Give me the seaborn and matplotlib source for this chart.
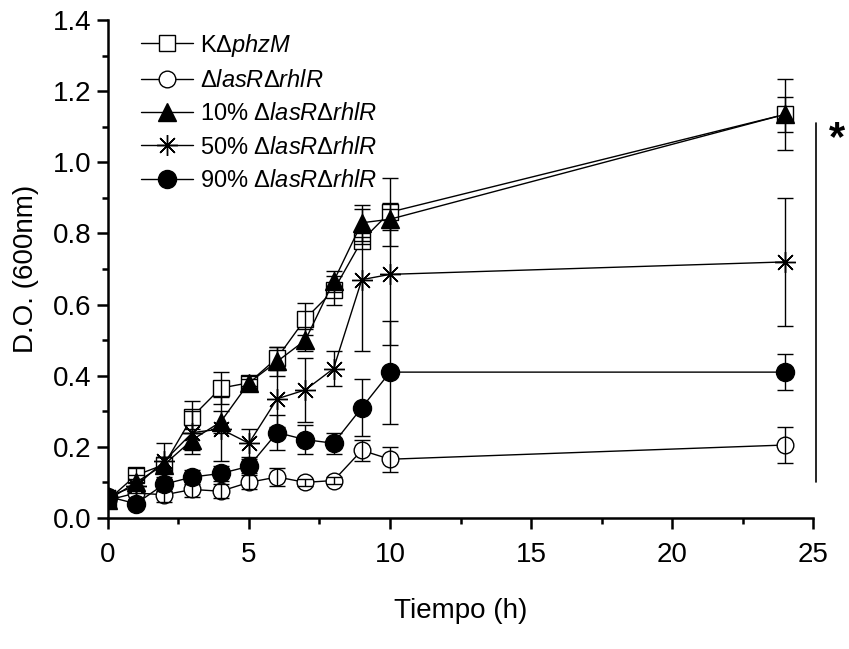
import numpy as np
import pandas as pd
import matplotlib
matplotlib.use("Agg")
import matplotlib.pyplot as plt
import seaborn as sns
from matplotlib.ticker import MultipleLocator

# Time points (h)
tiempo = [0, 1, 2, 3, 4, 5, 6, 7, 8, 9, 10, 24]

# Mean OD600 per culture
kphzm = [0.05, 0.12, 0.15, 0.285, 0.365, 0.38, 0.45, 0.56, 0.64, 0.78, 0.86, 1.135]
laslhl = [0.05, 0.07, 0.065, 0.08, 0.075, 0.10, 0.115, 0.10, 0.105, 0.19, 0.165, 0.205]
mix10 = [0.05, 0.10, 0.15, 0.22, 0.27, 0.38, 0.44, 0.50, 0.665, 0.83, 0.84, 1.135]
mix50 = [0.06, 0.09, 0.16, 0.24, 0.25, 0.21, 0.335, 0.36, 0.42, 0.67, 0.685, 0.72]
mix90 = [0.06, 0.04, 0.095, 0.115, 0.125, 0.145, 0.24, 0.22, 0.21, 0.31, 0.41, 0.41]

# Standard deviations
kphzm_sd = [0.01, 0.02, 0.02, 0.045, 0.045, 0.01, 0.03, 0.045, 0.04, 0.01, 0.095, 0.10]
laslhl_sd = [0.01, 0.02, 0.02, 0.02, 0.02, 0.02, 0.025, 0.01, 0.01, 0.03, 0.035, 0.05]
mix10_sd = [0.01, 0.02, 0.02, 0.03, 0.03, 0.02, 0.04, 0.03, 0.03, 0.05, 0.03, 0.05]
mix50_sd = [0.01, 0.02, 0.05, 0.06, 0.09, 0.04, 0.08, 0.09, 0.05, 0.2, 0.2, 0.18]
mix90_sd = [0.01, 0.01, 0.02, 0.02, 0.02, 0.02, 0.05, 0.04, 0.03, 0.08, 0.145, 0.05]

labels = [r"K$\Delta\mathit{phzM}$",
          r"$\Delta\mathit{lasR}\Delta\mathit{rhlR}$",
          r"10% $\Delta\mathit{lasR}\Delta\mathit{rhlR}$",
          r"50% $\Delta\mathit{lasR}\Delta\mathit{rhlR}$",
          r"90% $\Delta\mathit{lasR}\Delta\mathit{rhlR}$"]

sns.set_theme(style="ticks")
plt.rcParams["font.family"] = ["Liberation Sans", "DejaVu Sans"]
plt.rcParams["mathtext.fontset"] = "custom"
plt.rcParams["mathtext.rm"] = "Liberation Sans"
plt.rcParams["mathtext.it"] = "Liberation Sans:italic"
plt.rcParams["text.color"] = "black"
plt.rcParams["axes.labelcolor"] = "black"
plt.rcParams["xtick.color"] = "black"
plt.rcParams["ytick.color"] = "black"
plt.rcParams["axes.edgecolor"] = "black"

fig = plt.figure(figsize=(8.49, 6.49), dpi=100)
ax = fig.add_axes([0.127, 0.202, 0.831, 0.767])

series = [
    (kphzm, kphzm_sd, "s", "white", 12),
    (laslhl, laslhl_sd, "o", "white", 12),
    (mix10, mix10_sd, "^", "black", 13),
    (mix50, mix50_sd, (8, 2, 0), "none", 15),
    (mix90, mix90_sd, "o", "black", 13),
]

for (vals, sd, mk, fc, ms), lab in zip(series, labels):
    df = pd.DataFrame({"t": tiempo, "od": vals})
    sns.lineplot(data=df, x="t", y="od", ax=ax, color="black", lw=1,
                 marker=mk, markersize=ms, markerfacecolor=fc,
                 markeredgecolor="black", markeredgewidth=1, label=lab,
                 zorder=2)
    ax.errorbar(tiempo, vals, yerr=sd, fmt="none", ecolor="black",
                elinewidth=1, capsize=6, capthick=1, zorder=3)

ax.set_xlim(0, 25)
ax.set_ylim(0, 1.4)
ax.xaxis.set_major_locator(MultipleLocator(5))
ax.xaxis.set_minor_locator(MultipleLocator(2.5))
ax.yaxis.set_major_locator(MultipleLocator(0.2))
ax.yaxis.set_minor_locator(MultipleLocator(0.1))
ax.yaxis.set_major_formatter(matplotlib.ticker.FormatStrFormatter("%.1f"))
ax.tick_params(which="major", length=8, width=1.8, labelsize=20, direction="out")
ax.tick_params(axis="x", which="major", pad=9)
ax.tick_params(which="minor", length=4, width=1.8, direction="out")
for s in ["top", "right"]:
    ax.spines[s].set_visible(False)
for s in ["left", "bottom"]:
    ax.spines[s].set_linewidth(1.8)

ax.set_xlabel("Tiempo (h)", fontsize=20, labelpad=22)
ax.set_ylabel("D.O. (600nm)", fontsize=20, labelpad=10)

ax.legend(loc="upper left", bbox_to_anchor=(0.02, 1.015), frameon=False,
          fontsize=17, handlelength=2.2, labelspacing=0.48, handletextpad=0.3,
          borderaxespad=0.4)

# significance bar
ax.plot([25.1, 25.1], [0.10, 1.11], color="black", lw=1.2, clip_on=False)
ax.text(25.85, 1.065, "*", fontsize=30, fontweight="bold", ha="center",
        va="center", clip_on=False)

fig.savefig("out.png", dpi=100)
